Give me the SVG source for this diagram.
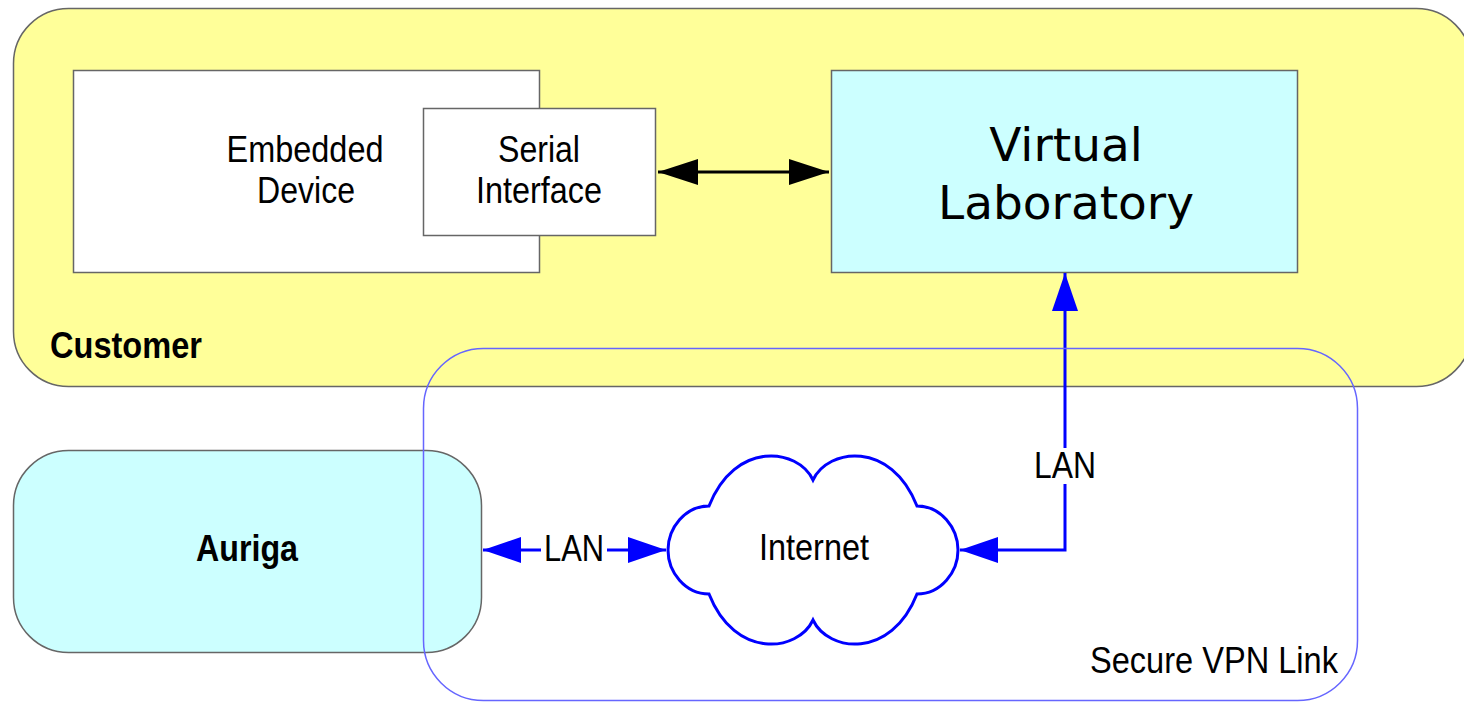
<svg xmlns="http://www.w3.org/2000/svg" width="1464" height="702" viewBox="0 0 1464 702">
<style>
.lbl{font-family:"Liberation Sans",Arial,sans-serif;font-size:37px;fill:#000;text-anchor:middle}
.bold{font-weight:bold}
.box{stroke:#666;stroke-width:1.5}
.blue{stroke:#0000FF;stroke-width:3;fill:none}
</style>
<defs>
<marker id="ab" viewBox="0 0 38 26" refX="38" refY="13" markerWidth="38" markerHeight="26" markerUnits="userSpaceOnUse" orient="auto-start-reverse"><path d="M0 0 L38 13 L0 26 Z" fill="#0000FF"/></marker>
<marker id="ak" viewBox="0 0 40 26" refX="40" refY="13" markerWidth="40" markerHeight="26" markerUnits="userSpaceOnUse" orient="auto-start-reverse"><path d="M0 0 L40 13 L0 26 Z" fill="#000"/></marker>
</defs>
<rect width="1464" height="702" fill="#fff"/>
<g id="customer">
<rect class="box" x="13.5" y="8.5" width="1458" height="378" rx="55" fill="#FFFF99"/>
<text class="lbl bold" x="126" y="358" textLength="152" lengthAdjust="spacingAndGlyphs">Customer</text>
</g>
<g id="embedded-device">
<rect class="box" x="73.5" y="70.5" width="466" height="202" fill="#fff"/>
<text class="lbl" x="305" y="162" textLength="157" lengthAdjust="spacingAndGlyphs">Embedded</text>
<text class="lbl" x="306" y="203" textLength="98" lengthAdjust="spacingAndGlyphs">Device</text>
</g>
<g id="serial-interface">
<rect class="box" x="423.5" y="108.5" width="232" height="127" fill="#fff"/>
<text class="lbl" x="539" y="162" textLength="82" lengthAdjust="spacingAndGlyphs">Serial</text>
<text class="lbl" x="539" y="203" textLength="126" lengthAdjust="spacingAndGlyphs">Interface</text>
</g>
<g id="virtual-laboratory">
<rect class="box" x="831.5" y="70.5" width="466" height="202" fill="#CCFFFF"/>
<text x="1066" y="161" font-family="DejaVu Sans,Verdana,sans-serif" font-size="47" text-anchor="middle">Virtual</text>
<text x="1066" y="219" font-family="DejaVu Sans,Verdana,sans-serif" font-size="47" text-anchor="middle">Laboratory</text>
</g>
<g id="auriga">
<rect class="box" x="13.5" y="450.5" width="468" height="202" rx="55" fill="#CCFFFF"/>
<text class="lbl bold" x="247" y="561" textLength="102" lengthAdjust="spacingAndGlyphs">Auriga</text>
</g>
<g id="internet">
<path class="blue" d="M813 480 C798 448 735 440 709 506 C685 506 668 528 668 550 C668 572 685 594 709 594 C735 660 798 652 813 620 C828 652 891 660 917 594 C941 594 958 572 958 550 C958 528 941 506 917 506 C891 440 828 448 813 480 Z" fill="#fff"/>
<text class="lbl" x="814" y="560" textLength="110" lengthAdjust="spacingAndGlyphs">Internet</text>
</g>
<g id="connectors">
<line x1="658" y1="172" x2="829" y2="172" stroke="#000" stroke-width="3" marker-start="url(#ak)" marker-end="url(#ak)"/>
<line class="blue" x1="483" y1="550" x2="666" y2="550" marker-start="url(#ab)" marker-end="url(#ab)"/>
<rect x="541" y="532" width="66" height="36" fill="#fff"/>
<text class="lbl" x="574" y="561" textLength="60" lengthAdjust="spacingAndGlyphs">LAN</text>
<path class="blue" d="M960 550 H1065 V273" marker-start="url(#ab)" marker-end="url(#ab)"/>
<rect x="1030" y="448" width="70" height="36" fill="#fff"/>
<text class="lbl" x="1065" y="478" textLength="62" lengthAdjust="spacingAndGlyphs">LAN</text>
</g>
<g id="vpn">
<rect x="423.5" y="348.5" width="934" height="352" rx="60" fill="none" stroke="#6666FF" stroke-width="1.5"/>
<text class="lbl" x="1214" y="673" textLength="248" lengthAdjust="spacingAndGlyphs">Secure VPN Link</text>
</g>
</svg>
